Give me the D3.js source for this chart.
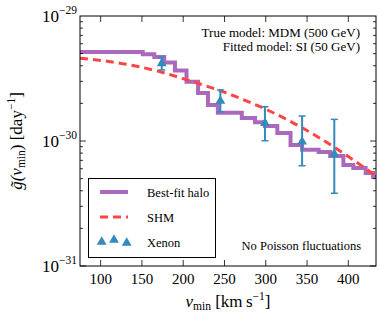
<!DOCTYPE html>
<html>
<head>
<meta charset="utf-8">
<script src="https://cdn.jsdelivr.net/npm/d3@7"></script>
<style>
  body { margin: 0; background: #fff; overflow: hidden; }
  svg { display: block; }
</style>
</head>
<body>
<div id="chart"></div>
<script>
const width = 380, height = 317;
const margin = { top: 16, right: 4, bottom: 51, left: 80 };
const innerWidth = width - margin.left - margin.right;
const innerHeight = height - margin.top - margin.bottom;

// Best-fit halo: step edges (v_min) and level in each bin
const haloEdges = [75, 151, 165, 177, 190, 204, 218, 230, 242, 271, 287, 299, 314, 330, 344, 364, 378, 394, 406, 421, 430, 433.5];
const haloValues = [5.15e-30, 4.94e-30, 4.7e-30, 4.25e-30, 3.66e-30, 2.98e-30, 2.42e-30, 1.94e-30, 1.68e-30,
  1.53e-30, 1.41e-30, 1.32e-30, 1.16e-30, 0.93e-30, 0.85e-30, 0.815e-30, 0.76e-30, 0.643e-30, 0.608e-30, 0.555e-30, 0.515e-30];

// SHM curve
const shmV = [75, 136, 172, 205, 248, 302, 342, 382, 406, 433.5];
const shmG = [4.59e-30, 4.06e-30, 3.58e-30, 3.08e-30, 2.48e-30, 1.77e-30, 1.30e-30, 0.90e-30, 0.705e-30, 0.525e-30];

// Xenon points with error bars
const xenonV = [174, 245, 299, 344, 383];
const xenonG = [4.18e-30, 2.09e-30, 1.39e-30, 0.987e-30, 0.787e-30];
const xenonLo = [3.70e-30, 1.71e-30, 1.005e-30, 0.634e-30, 0.382e-30];
const xenonHi = [4.70e-30, 2.56e-30, 1.88e-30, 1.585e-30, 1.49e-30];

const xTicks = [100, 150, 200, 250, 300, 350, 400];
const yMajor = [1e-31, 1e-30, 1e-29];
const yExps = ["\u221231", "\u221230", "\u221229"];

const purple = "#9c4fb3", red = "#ff4444", blue = "#348abd";
const serif = "'Liberation Serif', 'DejaVu Serif', serif";

const svg = d3.select("#chart").append("svg")
  .attr("width", width).attr("height", height)
  .style("font-family", serif);
const inner = svg.append("g")
  .attr("transform", `translate(${margin.left}, ${margin.top})`);

const x = d3.scaleLinear().domain([75, 433.5]).range([0, innerWidth]);
const y = d3.scaleLog().domain([1e-31, 1e-29]).range([innerHeight, 0]);

// Best-fit halo step line
const haloPts = [];
haloValues.forEach((g, i) => {
  haloPts.push([haloEdges[i], g], [haloEdges[i + 1], g]);
});
inner.append("path")
  .datum(haloPts)
  .attr("fill", "none")
  .attr("stroke", purple)
  .attr("stroke-opacity", 0.85)
  .attr("stroke-width", 4)
  .attr("d", d3.line().x(d => x(d[0])).y(d => y(d[1])));

// SHM
inner.append("path")
  .datum(shmV.map((v, i) => [v, shmG[i]]))
  .attr("fill", "none")
  .attr("stroke", red)
  .attr("stroke-width", 3)
  .attr("stroke-dasharray", "8,5")
  .attr("d", d3.line().x(d => x(d[0])).y(d => y(d[1])).curve(d3.curveMonotoneX));

// Xenon error bars + triangles
const tri = d3.symbol().type(d3.symbolTriangle).size(42);
const xen = inner.selectAll(".xen").data(xenonV).join("g").attr("class", "xen");
xen.append("line")
  .attr("x1", d => x(d)).attr("x2", d => x(d))
  .attr("y1", (d, i) => y(xenonLo[i])).attr("y2", (d, i) => y(xenonHi[i]))
  .attr("stroke", blue).attr("stroke-width", 2);
[xenonLo, xenonHi].forEach(arr => {
  xen.append("line")
    .attr("x1", d => x(d) - 3.5).attr("x2", d => x(d) + 3.5)
    .attr("y1", (d, i) => y(arr[i])).attr("y2", (d, i) => y(arr[i]))
    .attr("stroke", blue).attr("stroke-width", 1.5);
});
xen.append("path")
  .attr("d", tri)
  .attr("transform", (d, i) => `translate(${x(d)}, ${y(xenonG[i])})`)
  .attr("fill", blue);

// Frame and inward ticks
inner.append("rect")
  .attr("width", innerWidth).attr("height", innerHeight)
  .attr("fill", "none").attr("stroke", "#000").attr("stroke-width", 1);

const ticks = inner.append("g").attr("stroke", "#000").attr("stroke-width", 0.8);
xTicks.forEach(t => {
  ticks.append("line").attr("x1", x(t)).attr("x2", x(t)).attr("y1", innerHeight).attr("y2", innerHeight - 6);
  ticks.append("line").attr("x1", x(t)).attr("x2", x(t)).attr("y1", 0).attr("y2", 6);
});
y.ticks().forEach(t => {
  const major = yMajor.some(m => Math.abs(m - t) / m < 1e-6);
  const len = major ? 6 : 3;
  ticks.append("line").attr("x1", 0).attr("x2", len).attr("y1", y(t)).attr("y2", y(t));
  ticks.append("line").attr("x1", innerWidth).attr("x2", innerWidth - len).attr("y1", y(t)).attr("y2", y(t));
});

// Tick labels
inner.selectAll(".xl").data(xTicks).join("text")
  .attr("class", "xl")
  .attr("x", d => x(d)).attr("y", innerHeight + 18)
  .attr("text-anchor", "middle")
  .attr("font-size", 15)
  .text(d => d);

yMajor.forEach((m, i) => {
  const t = inner.append("text")
    .attr("x", -3).attr("y", y(m) + 5.5)
    .attr("text-anchor", "end")
    .attr("font-size", 17);
  t.append("tspan").text("10");
  t.append("tspan").attr("dy", -8).attr("font-size", 11.5).text(yExps[i]);
});

// Axis labels
const xl = svg.append("text")
  .attr("x", 228).attr("y", 307)
  .attr("text-anchor", "middle")
  .attr("font-size", 17);
xl.append("tspan").attr("font-style", "italic").text("v");
xl.append("tspan").attr("font-size", 11.5).attr("dy", 3).text("min");
xl.append("tspan").attr("dy", -3).text(" [km\u2009s");
xl.append("tspan").attr("font-size", 11.5).attr("dy", -7).text("\u22121");
xl.append("tspan").attr("dy", 7).text("]");

const yl = svg.append("text")
  .attr("transform", `translate(22, ${margin.top + innerHeight / 2}) rotate(-90)`)
  .attr("text-anchor", "middle")
  .attr("font-size", 17);
yl.append("tspan").attr("font-style", "italic").text("g\u0303(v");
yl.append("tspan").attr("font-size", 11.5).attr("dy", 3).text("min");
yl.append("tspan").attr("dy", -3).text(") [day");
yl.append("tspan").attr("font-size", 11.5).attr("dy", -7).text("\u22121");
yl.append("tspan").attr("dy", 7).text("]");

// Annotations
svg.append("text").attr("x", 360).attr("y", 36.5).attr("text-anchor", "end").attr("font-size", 13)
  .text("True model: MDM (500 GeV)");
svg.append("text").attr("x", 360).attr("y", 50.5).attr("text-anchor", "end").attr("font-size", 13)
  .text("Fitted model: SI (50 GeV)");
svg.append("text").attr("x", 361).attr("y", 250).attr("text-anchor", "end").attr("font-size", 12.5)
  .text("No Poisson fluctuations");

// Legend
const legend = svg.append("g");
legend.append("rect")
  .attr("x", 88.5).attr("y", 178.5).attr("width", 127).attr("height", 79)
  .attr("fill", "#fff").attr("stroke", "#000").attr("stroke-width", 1);
legend.append("line").attr("x1", 100).attr("x2", 128).attr("y1", 192).attr("y2", 192)
  .attr("stroke", purple).attr("stroke-opacity", 0.85).attr("stroke-width", 4);
legend.append("line").attr("x1", 100).attr("x2", 128).attr("y1", 217).attr("y2", 217)
  .attr("stroke", red).attr("stroke-width", 3).attr("stroke-dasharray", "8,5");
[[101.7, 242], [114, 240], [126.7, 243]].forEach(p => {
  legend.append("path").attr("d", tri).attr("fill", blue)
    .attr("transform", `translate(${p[0]}, ${p[1]})`);
});
["Best-fit halo", "SHM", "Xenon"].forEach((s, i) => {
  legend.append("text").attr("x", 147).attr("y", 196.5 + i * 25).attr("font-size", 12.5).text(s);
});
</script>
</body>
</html>
